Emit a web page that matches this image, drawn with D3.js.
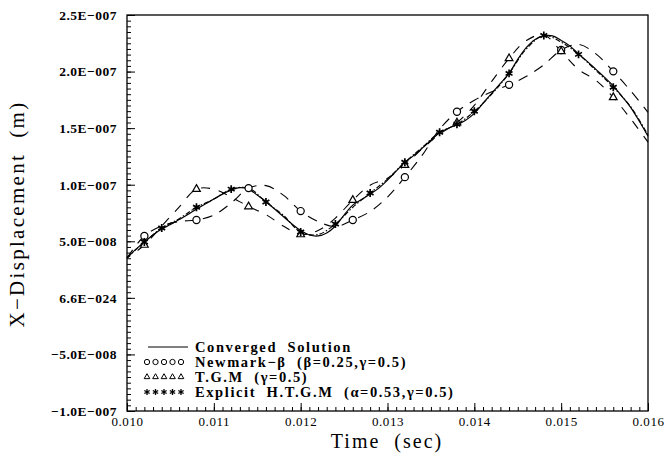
<!DOCTYPE html>
<html>
<head>
<meta charset="utf-8">
<script src="https://cdn.jsdelivr.net/npm/d3@7"></script>
<style>
  body { margin: 0; background: #fff; }
  text { font-family: "Liberation Serif", "DejaVu Serif", serif; fill: #000; }
</style>
</head>
<body>
<script>
var width = 665
var height = 455

// displacement values are in units of 1e-8 m
var tFine = [0.0100,0.0101,0.0102,0.0103,0.0104,0.0105,0.0106,0.0107,0.0108,0.0109,
             0.0110,0.0111,0.0112,0.0113,0.0114,0.0115,0.0116,0.0117,0.0118,0.0119,
             0.0120,0.0121,0.0122,0.0123,0.0124,0.0125,0.0126,0.0127,0.0128,0.0129,
             0.0130,0.0131,0.0132,0.0133,0.0134,0.0135,0.0136,0.0137,0.0138,0.0139,
             0.0140,0.0141,0.0142,0.0143,0.0144,0.0145,0.0146,0.0147,0.0148,0.0149,
             0.0150,0.0151,0.0152,0.0153,0.0154,0.0155,0.0156,0.0157,0.0158,0.0159,0.0160]
var converged = [3.53,4.28,4.94,5.56,6.08,6.48,6.92,7.36,7.85,8.29,
                 8.73,9.17,9.52,9.74,9.61,9.08,8.51,7.85,7.19,6.53,
                 5.95,5.56,5.47,5.73,6.35,7.32,8.20,8.69,9.17,9.70,
                 10.41,11.20,11.99,12.57,13.23,13.93,14.59,14.99,15.30,15.70,
                 16.31,17.20,18.08,18.96,19.84,21.08,22.13,22.84,23.15,23.15,
                 22.75,22.27,21.56,20.90,20.19,19.49,18.74,17.81,16.84,15.61,14.29]

var tCoarse = [0.0100,0.0102,0.0104,0.0106,0.0108,0.0110,0.0112,0.0114,0.0116,0.0118,
               0.0120,0.0122,0.0124,0.0126,0.0128,0.0130,0.0132,0.0134,0.0136,0.0138,
               0.0140,0.0142,0.0144,0.0146,0.0148,0.0150,0.0152,0.0154,0.0156,0.0158,0.0160]
var newmark = [3.53,5.47,6.35,6.75,6.88,7.32,8.38,9.70,9.92,9.08,
               7.67,6.75,6.30,6.88,7.63,8.91,10.67,12.61,14.90,16.45,
               17.46,18.21,18.83,19.58,20.59,21.91,22.40,21.56,20.02,18.30,16.40]
var tgm = [3.53,4.67,6.35,8.02,9.61,9.61,8.91,8.07,7.36,6.35,
           5.60,5.95,7.05,8.64,9.96,10.58,11.73,13.18,14.46,15.48,
           17.02,19.13,21.16,22.75,23.24,21.78,20.19,19.22,17.72,15.83,13.76]
var htgm = [3.53,4.94,6.17,7.00,8.00,8.73,9.61,9.70,8.47,7.30,
            5.82,5.60,6.53,8.00,9.26,10.50,11.99,13.30,14.64,15.34,
            16.49,18.00,19.84,22.00,23.19,22.60,21.52,20.10,18.61,16.90,14.40]

// which points carry a symbol
var newmarkMarks = [1,4,7,10,13,16,19,22,25,28]
var tgmMarks = [1,4,7,10,13,16,19,22,25,28]
var htgmMarks = [1,2,4,6,8,10,12,14,16,18,19,20,22,24,26,28]

var xTicks = [0.010,0.011,0.012,0.013,0.014,0.015,0.016]
var xTickLabels = ["0.010","0.011","0.012","0.013","0.014","0.015","0.016"]
var yTicks = [-10,-5,0,5,10,15,20,25]
var yTickLabels = ["\u22121.0E\u2212007","\u22125.0E\u2212008","6.6E\u2212024","5.0E\u2212008",
                   "1.0E\u2212007","1.5E\u2212007","2.0E\u2212007","2.5E\u2212007"]

var legendLabels = ["Converged  Solution",
                    "Newmark\u2212\u03b2  (\u03b2=0.25,\u03b3=0.5)",
                    "T.G.M  (\u03b3=0.5)",
                    "Explicit  H.T.G.M  (\u03b1=0.53,\u03b3=0.5)"]

var pL = 127, pR = 648, pT = 15, pB = 411

var svg = d3.select("body")
    .append("svg")
    .attr("width", width)
    .attr("height", height)

var x_scale = d3.scaleLinear().domain([0.010, 0.016]).range([pL, pR])
var y_scale = d3.scaleLinear().domain([-10, 25]).range([pB, pT])

// minor ticks
svg.append("g")
    .attr("transform", "translate(" + pL + ",0)")
    .call(d3.axisLeft(y_scale).ticks(70).tickSize(-4).tickFormat(""))
    .call(g => g.select(".domain").remove())
svg.append("g")
    .attr("transform", "translate(0," + pB + ")")
    .call(d3.axisBottom(x_scale).ticks(60).tickSize(-4).tickFormat(""))
    .call(g => g.select(".domain").remove())

// major ticks + labels
var yAxis = svg.append("g")
    .attr("transform", "translate(" + pL + ",0)")
    .call(d3.axisLeft(y_scale).tickValues(yTicks).tickSize(-8).tickPadding(10)
          .tickFormat((d, i) => yTickLabels[i]))
yAxis.select(".domain").remove()
yAxis.selectAll("text")
    .style("font-family", "Liberation Serif")
    .style("font-weight", "bold")
    .style("font-size", "13.5px")
    .style("letter-spacing", "0.5px")

var xAxis = svg.append("g")
    .attr("transform", "translate(0," + pB + ")")
    .call(d3.axisBottom(x_scale).tickValues(xTicks).tickSize(-8).tickPadding(8)
          .tickFormat((d, i) => xTickLabels[i]))
xAxis.select(".domain").remove()
xAxis.selectAll("text")
    .style("font-family", "Liberation Serif")
    .style("font-size", "13px")
    .style("letter-spacing", "0.6px")
    .attr("dy", "0.55em")

svg.selectAll(".tick line").attr("stroke", "#000")

// frame
svg.append("rect")
    .attr("x", pL).attr("y", pT)
    .attr("width", pR - pL).attr("height", pB - pT)
    .attr("fill", "none").attr("stroke", "#000").attr("stroke-width", 1.3)

var line = d3.line()
    .x(d => x_scale(d[0]))
    .y(d => y_scale(d[1]))
    .curve(d3.curveCatmullRom.alpha(0.5))

function pairs(ts, vs) { return ts.map((t, i) => [t, vs[i]]) }

svg.append("path").datum(pairs(tFine, converged))
    .attr("d", line).attr("fill", "none").attr("stroke", "#000").attr("stroke-width", 1.2)
svg.append("path").datum(pairs(tCoarse, newmark))
    .attr("d", line).attr("fill", "none").attr("stroke", "#000").attr("stroke-width", 1.1)
    .attr("stroke-dasharray", "10,8")
svg.append("path").datum(pairs(tCoarse, tgm))
    .attr("d", line).attr("fill", "none").attr("stroke", "#000").attr("stroke-width", 1.1)
    .attr("stroke-dasharray", "9,9").attr("stroke-dashoffset", 5)
svg.append("path").datum(pairs(tCoarse, htgm))
    .attr("d", line).attr("fill", "none").attr("stroke", "#000").attr("stroke-width", 1.1)
    .attr("stroke-dasharray", "5,2,1.5,2")

var circleSym = d3.symbol().type(d3.symbolCircle).size(40)
var triSym = d3.symbol().type(d3.symbolTriangle).size(26)
var starSym = d3.symbol().type(d3.symbolAsterisk).size(44)

function marks(idx, ts, vs, sym, cls) {
    svg.selectAll("path." + cls)
        .data(idx)
        .enter()
        .append("path")
        .attr("class", cls)
        .attr("transform", i => "translate(" + x_scale(ts[i]) + "," + y_scale(vs[i]) + ")")
        .attr("d", sym)
        .attr("fill", cls == "star" ? "#000" : "#fff")
        .attr("stroke", "#000")
        .attr("stroke-width", cls == "star" ? 1.7 : 1.2)
}
marks(newmarkMarks, tCoarse, newmark, circleSym, "circ")
marks(tgmMarks, tCoarse, tgm, triSym, "tri")
marks(htgmMarks, tCoarse, htgm, starSym, "star")

// legend
var legY = [347, 362, 377, 392]
var legSyms = [null, d3.symbol().type(d3.symbolCircle).size(22),
               d3.symbol().type(d3.symbolTriangle).size(14),
               d3.symbol().type(d3.symbolAsterisk).size(26)]
var lg = svg.append("g")
lg.append("line").attr("x1", 148).attr("x2", 188).attr("y1", legY[0]).attr("y2", legY[0])
    .attr("stroke", "#000").attr("stroke-width", 1)
for (var r = 1; r < 4; r++) {
    for (var k = 0; k < 5; k++) {
        lg.append("path")
            .attr("transform", "translate(" + (147 + k * 8.5) + "," + legY[r] + ")")
            .attr("d", legSyms[r])
            .attr("fill", r == 3 ? "#000" : "#fff")
            .attr("stroke", "#000")
            .attr("stroke-width", r == 3 ? 1.3 : 1)
    }
}
lg.selectAll("text")
    .data(legendLabels)
    .enter()
    .append("text")
    .attr("x", 195)
    .attr("y", (d, i) => legY[i] + 5)
    .style("white-space", "pre")
    .style("font-size", "14.5px")
    .style("font-weight", "bold")
    .style("letter-spacing", "1.6px")
    .text(d => d)

// axis titles
svg.append("text")
    .attr("x", 387).attr("y", 448)
    .attr("text-anchor", "middle")
    .style("font-size", "20px")
    .style("letter-spacing", "2px")
    .style("white-space", "pre")
    .text("Time  (sec)")
svg.append("text")
    .attr("transform", "translate(24,214) rotate(-90)")
    .attr("text-anchor", "middle")
    .style("font-size", "21px")
    .style("letter-spacing", "2.3px")
    .style("white-space", "pre")
    .text("X\u2212Displacement  (m)")
</script>
</body>
</html>
